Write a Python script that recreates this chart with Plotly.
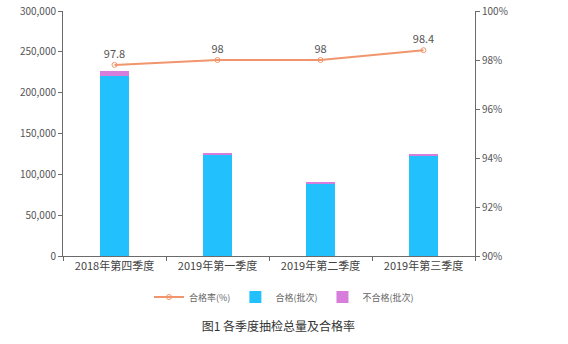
import plotly.graph_objects as go

quarters = ["2018年第四季度", "2019年第一季度", "2019年第二季度", "2019年第三季度"]
passed = [221000, 123100, 88300, 122700]
failed = [5000, 2500, 1800, 2000]
pass_rate = [97.8, 98, 98, 98.4]

left_ticks = [0, 50000, 100000, 150000, 200000, 250000, 300000]
right_ticks = [90, 92, 94, 96, 98, 100]

font_family = "Noto Sans CJK SC, Noto Sans, sans-serif"
axis_color = "#6b6b6b"

fig = go.Figure()

fig.add_trace(go.Scatter(
    x=quarters, y=pass_rate, name="合格率(%)", yaxis="y2",
    mode="lines+markers+text",
    line=dict(color="#f0956c", width=2),
    marker=dict(symbol="circle-open", size=5, color="#f0956c", line=dict(width=1)),
    text=[str(v) for v in pass_rate], textposition="top center",
    textfont=dict(size=11, color="#555555", family=font_family),
    cliponaxis=False,
))
fig.add_trace(go.Bar(
    x=quarters, y=passed, name="合格(批次)",
    marker=dict(color="#22c0fd", line=dict(width=0)),
))
fig.add_trace(go.Bar(
    x=quarters, y=failed, name="不合格(批次)",
    marker=dict(color="#d77ddc", line=dict(width=0)),
))

fig.update_layout(
    width=568, height=344,
    margin=dict(l=63, r=93, t=11, b=88, autoexpand=False),
    paper_bgcolor="white", plot_bgcolor="white",
    barmode="stack", bargap=0.72,
    font=dict(family=font_family, size=10, color="#555555"),
    showlegend=True,
    legend=dict(
        orientation="h", xref="container", yref="container",
        x=0.5, xanchor="center", y=1 - 297 / 344, yanchor="middle",
        font=dict(size=9, color="#666666"), traceorder="normal",
    ),
    title=dict(
        text="图1 各季度抽检总量及合格率", xref="container", yref="container",
        x=0.49, xanchor="center", y=1 - 327 / 344, yanchor="middle",
        font=dict(size=12, color="#333333", family=font_family),
    ),
    xaxis=dict(
        showline=True, linecolor=axis_color, linewidth=1,
        ticks="outside", tickson="boundaries", ticklen=4, tickcolor=axis_color,
        tickfont=dict(size=11, color="#444444"), showgrid=False,
    ),
    yaxis=dict(
        range=[0, 300000], tickvals=left_ticks,
        ticktext=[f"{v:,}" for v in left_ticks],
        showline=True, linecolor=axis_color, linewidth=1,
        ticks="outside", ticklen=4, tickcolor=axis_color,
        tickfont=dict(size=10, color="#555555"), showgrid=False, zeroline=False,
    ),
    yaxis2=dict(
        overlaying="y", side="right", range=[90, 100], tickvals=right_ticks,
        ticktext=[f"{v}%" for v in right_ticks],
        showline=True, linecolor=axis_color, linewidth=1,
        ticks="outside", ticklen=4, tickcolor=axis_color,
        tickfont=dict(size=10, color="#555555"), showgrid=False, zeroline=False,
    ),
)

fig.write_html("out.html")
